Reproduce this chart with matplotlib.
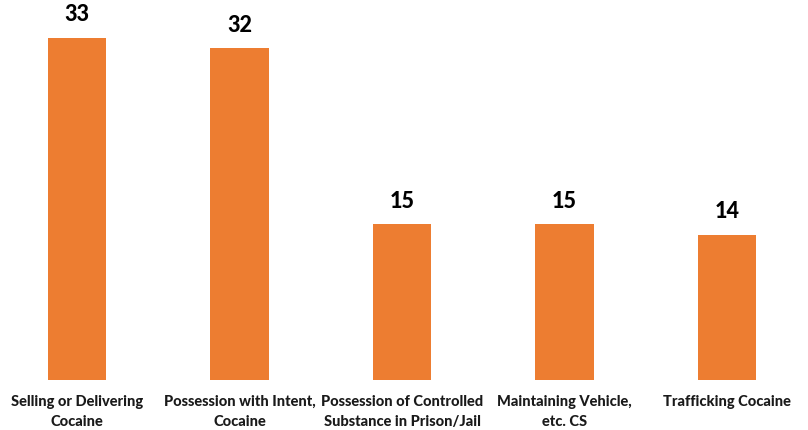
import matplotlib
matplotlib.use("Agg")
import matplotlib.pyplot as plt

categories = [
    "Selling or Delivering\nCocaine",
    "Possession with Intent,\nCocaine",
    "Possession of Controlled\nSubstance in Prison/Jail",
    "Maintaining Vehicle,\netc. CS",
    "Trafficking Cocaine",
]
counts = [33, 32, 15, 15, 14]

BAR_COLOR = "#ED7D31"
TEXT_COLOR = "#000000"
FONT = "Lato"

fig = plt.figure(figsize=(8.08, 4.30), dpi=100)
ax = fig.add_axes([0, 50 / 430, 1, 363 / 430])

x = list(range(len(categories)))
ax.bar(x, counts, width=0.36, color=BAR_COLOR)

for xi, v in zip(x, counts):
    ax.annotate(str(v), (xi, v), xytext=(0, 9), textcoords="offset points",
                ha="center", va="bottom", fontsize=15.5, fontweight="black",
                family=FONT, color=TEXT_COLOR)

ax.set_xlim(-77 / 162.5, 731 / 162.5)
ax.set_ylim(0, 35)
ax.set_yticks([])
ax.set_xticks(x)
ax.set_xticklabels(categories, fontsize=10.5, fontweight="black", family=FONT,
                   color="#1a1a1a", linespacing=1.55)
ax.tick_params(axis="x", length=0, pad=10.5)
for spine in ax.spines.values():
    spine.set_visible(False)

fig.savefig("out.png", dpi=100, facecolor="white")
